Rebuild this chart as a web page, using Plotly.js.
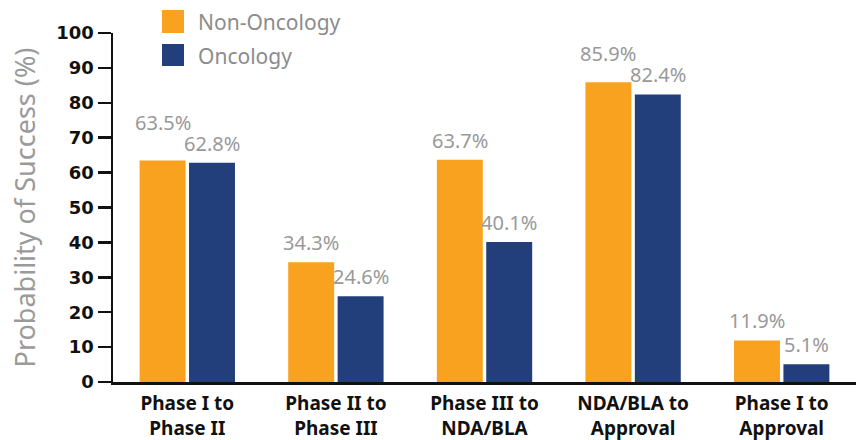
<!DOCTYPE html>
<html>
<head>
<meta charset="utf-8">
<script src="https://cdn.plot.ly/plotly-3.0.1.min.js"></script>
<style>
  html, body { margin: 0; padding: 0; background: #fff; }
  #chart { width: 856px; height: 440px; }
</style>
</head>
<body>
<div id="chart"></div>
<script>
// Development stage transitions
const categories = [
  'Phase I to<br>Phase II',
  'Phase II to<br>Phase III',
  'Phase III to<br>NDA/BLA',
  'NDA/BLA to<br>Approval',
  'Phase I to<br>Approval'
];
const seriesNames = ['Non-Oncology', 'Oncology'];
const nonOncology = [63.5, 34.3, 63.7, 85.9, 11.9];
const oncology = [62.8, 24.6, 40.1, 82.4, 5.1];
const seriesColors = ['#F8A21F', '#223F7B'];
const yTicks = [0, 10, 20, 30, 40, 50, 60, 70, 80, 90, 100];

const font = 'Noto Sans, Open Sans, Arial, sans-serif';
const tickFontY = 'DejaVu Sans, Noto Sans, sans-serif';
const M = { l: 113, r: 0, t: 33, b: 58 };
const W = 856, H = 440;
const pw = W - M.l - M.r, ph = H - M.t - M.b;
const px = X => (X - M.l) / pw;
const py = Y => (H - M.b - Y) / ph;

const BARGAP = 0.335, GROUPGAP = 0.07;
const yMax = 100;

const allSeries = [nonOncology, oncology];

const data = allSeries.map((vals, s) => ({
  type: 'bar',
  name: seriesNames[s],
  x: categories,
  y: vals,
  marker: { color: seriesColors[s], line: { width: 0 } },
  showlegend: false,
  hoverinfo: 'x+y'
}));

// Value labels above each bar; when a pair of labels would collide,
// the taller bar's label is lifted above its neighbour's.
const annotations = [];
const catPx = pw / categories.length;
const slotHalf = catPx * (1 - BARGAP) / 4;
const unitPx = ph / yMax;
const labelH = 21;
const labelGap = 4;
categories.forEach((c, i) => {
  allSeries.forEach((vals, s) => {
    const v = vals[i];
    const other = allSeries[1 - s][i];
    let lift = 0;
    if (v > other) {
      const need = labelH - (v - other) * unitPx;
      if (need > 0) lift = need;
    }
    annotations.push({
      xref: 'x', yref: 'y', x: c, y: v,
      xshift: (s === 0 ? -1 : 1) * slotHalf,
      yshift: labelGap + lift,
      xanchor: 'center', yanchor: 'bottom',
      text: v.toFixed(1) + '%', showarrow: false,
      font: { family: font, size: 20, color: '#999999' }
    });
  });
});

// Legend drawn as swatches + labels at the top-left of the plot
const shapes = [];
const legendRows = [[10, 33], [44, 66]];
seriesNames.forEach((n, i) => {
  const [y0, y1] = legendRows[i];
  shapes.push({
    type: 'rect', xref: 'paper', yref: 'paper',
    x0: px(162), x1: px(184), y0: py(y1), y1: py(y0),
    fillcolor: seriesColors[i], line: { width: 0 }
  });
  annotations.push({
    xref: 'paper', yref: 'paper',
    x: px(196), y: py((y0 + y1) / 2 + 1),
    xanchor: 'left', yanchor: 'middle',
    text: n, showarrow: false,
    font: { family: font, size: 21, color: '#8c8c8c' }
  });
});

const layout = {
  width: W, height: H,
  margin: M,
  paper_bgcolor: '#fff',
  plot_bgcolor: '#fff',
  barmode: 'group',
  bargap: BARGAP,
  bargroupgap: GROUPGAP,
  showlegend: false,
  xaxis: {
    type: 'category',
    range: [-0.5, categories.length - 0.5],
    showline: true, linecolor: '#111', linewidth: 2.5,
    ticks: '', showgrid: false, zeroline: false,
    ticklabelstandoff: 3,
    tickfont: { family: font, size: 19, color: '#111', weight: 'bold' }
  },
  yaxis: {
    range: [0, yMax],
    tickvals: yTicks,
    showline: true, linecolor: '#111', linewidth: 2.5,
    ticks: 'outside', ticklen: 13, tickwidth: 2.5, tickcolor: '#111',
    showgrid: false, zeroline: false,
    tickfont: { family: tickFontY, size: 18, color: '#111', weight: 'bold' },
    title: {
      text: 'Probability of Success (%)',
      font: { family: font, size: 27, color: '#9a9a9a' },
      standoff: 13
    }
  },
  shapes: shapes,
  annotations: annotations
};

Plotly.newPlot('chart', data, layout, { displayModeBar: false, staticPlot: true });
</script>
</body>
</html>
